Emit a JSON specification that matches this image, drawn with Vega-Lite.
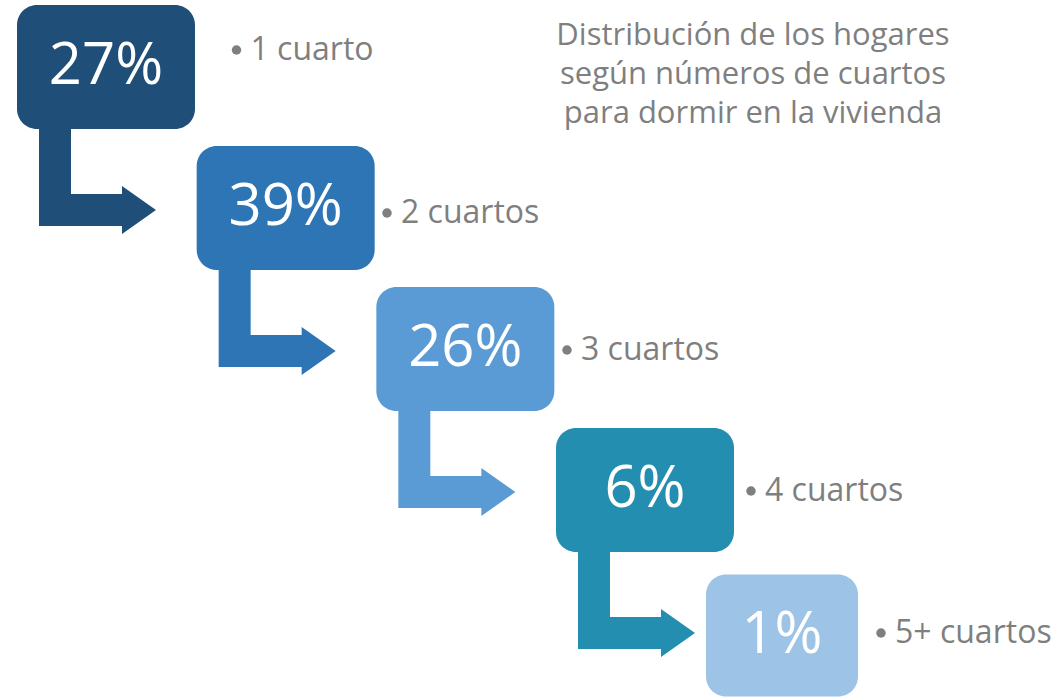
{
  "$schema": "https://vega.github.io/schema/vega-lite/v6.json",
  "width": 1064,
  "height": 698,
  "padding": 0,
  "background": "white",
  "config": {"view": {"stroke": null}},
  "title": {
    "text": ["Distribución de los hogares", "según números de cuartos", "para dormir en la vivienda"],
    "font": "Open Sans",
    "fontSize": 31,
    "fontWeight": "normal",
    "color": "#7f7f7f",
    "anchor": "middle",
    "frame": "group",
    "dx": 221,
    "dy": 31,
    "lineHeight": 39,
    "offset": -130,
    "baseline": "bottom"
  },
  "data": {
    "values": [
      {"paso": 1, "cuartos": "1 cuarto", "pct": 0.27},
      {"paso": 2, "cuartos": "2 cuartos", "pct": 0.39},
      {"paso": 3, "cuartos": "3 cuartos", "pct": 0.26},
      {"paso": 4, "cuartos": "4 cuartos", "pct": 0.06},
      {"paso": 5, "cuartos": "5+ cuartos", "pct": 0.01}
    ]
  },
  "layer": [
    {
      "encoding": {
        "x": {"field": "paso", "type": "quantitative", "axis": null,
              "scale": {"domain": [1, 4, 5], "range": [106, 645, 782], "nice": false, "zero": false}},
        "y": {"field": "paso", "type": "quantitative", "axis": null,
              "scale": {"domain": [1, 4, 5], "range": [67, 490, 635.5], "nice": false, "zero": false}},
        "color": {"field": "cuartos", "type": "nominal", "legend": null,
                  "scale": {"domain": ["1 cuarto", "2 cuartos", "3 cuartos", "4 cuartos", "5+ cuartos"],
                            "range": ["#1f4e79", "#2e75b6", "#5b9bd5", "#238eaf", "#9dc3e6"]}}
      },
      "layer": [
        {
          "transform": [{"filter": "datum.paso < 5"}],
          "mark": {"type": "point", "filled": true, "opacity": 1, "size": 4, "strokeWidth": 0,
                   "shape": "M-67,55L-35,55L-35,127L16,127L16,119L50,143L16,167L16,159L-67,159Z"}
        },
        {
          "mark": {"type": "point", "filled": true, "opacity": 1, "size": 4, "strokeWidth": 0},
          "encoding": {
            "shape": {"field": "cuartos", "type": "nominal", "legend": null,
                      "scale": {"domain": ["1 cuarto", "2 cuartos", "3 cuartos", "4 cuartos", "5+ cuartos"],
                                "range": [
                                  "M-69,-62L69,-62A20,20 0 0 1 89,-42L89,42A20,20 0 0 1 69,62L-69,62A20,20 0 0 1 -89,42L-89,-42A20,20 0 0 1 -69,-62Z",
                                  "M-69,-62L69,-62A20,20 0 0 1 89,-42L89,42A20,20 0 0 1 69,62L-69,62A20,20 0 0 1 -89,42L-89,-42A20,20 0 0 1 -69,-62Z",
                                  "M-69,-62L69,-62A20,20 0 0 1 89,-42L89,42A20,20 0 0 1 69,62L-69,62A20,20 0 0 1 -89,42L-89,-42A20,20 0 0 1 -69,-62Z",
                                  "M-69,-62L69,-62A20,20 0 0 1 89,-42L89,42A20,20 0 0 1 69,62L-69,62A20,20 0 0 1 -89,42L-89,-42A20,20 0 0 1 -69,-62Z",
                                  "M-56,-61L56,-61A20,20 0 0 1 76,-41L76,41A20,20 0 0 1 56,61L-56,61A20,20 0 0 1 -76,41L-76,-41A20,20 0 0 1 -56,-61Z"
                                ]}}
          }
        },
        {
          "mark": {"type": "text", "font": "Open Sans", "fontSize": 58, "align": "center", "baseline": "middle"},
          "encoding": {
            "text": {"field": "pct", "type": "quantitative", "format": ".0%"},
            "color": {"value": "white"}
          }
        }
      ]
    },
    {
      "encoding": {
        "x": {"field": "paso", "type": "quantitative", "axis": null,
              "scale": {"domain": [1, 2, 3, 4, 5], "range": [236.5, 387, 567, 751, 881], "nice": false, "zero": false}},
        "y": {"field": "paso", "type": "quantitative", "axis": null,
              "scale": {"domain": [1, 2, 3, 4, 5], "range": [50, 213, 350, 491, 633], "nice": false, "zero": false}}
      },
      "layer": [
        {"mark": {"type": "circle", "size": 90, "color": "#7f7f7f", "opacity": 1}},
        {
          "mark": {"type": "text", "font": "Open Sans", "fontSize": 32, "color": "#7f7f7f", "align": "left", "baseline": "middle", "dx": 14},
          "encoding": {"text": {"field": "cuartos", "type": "nominal"}}
        }
      ]
    }
  ],
  "resolve": {"scale": {"x": "independent", "y": "independent"}}
}
